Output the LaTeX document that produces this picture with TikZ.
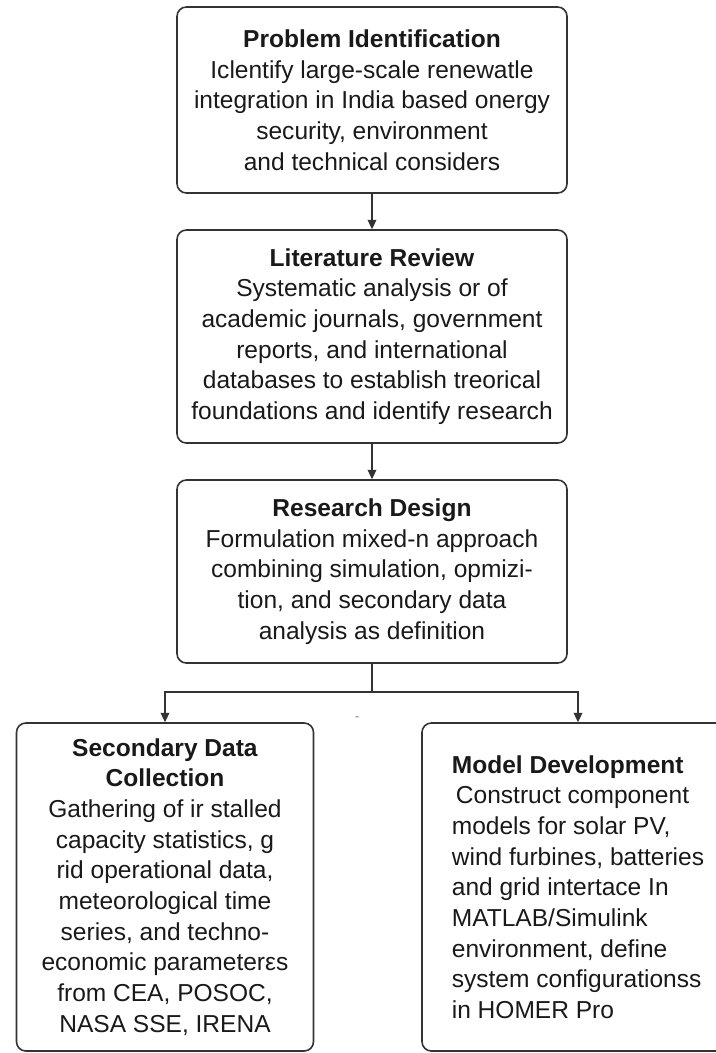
\documentclass[tikz,border=0pt]{standalone}
\usepackage{fontspec}
\setmainfont{Liberation Sans}
\usetikzlibrary{arrows.meta}

\tikzset{
  stagebox/.style={draw=black!80, line width=1.2pt, rounded corners=7pt, inner sep=0pt,
    align=center, text=black!90, font=\fontsize{18.4}{23}\selectfont},
  flowline/.style={draw=black!80, line width=1pt},
  flowarrow/.style={flowline, -{Triangle[length=7pt,width=6.5pt]}},
}

\begin{document}
\begin{tikzpicture}[x=0.75pt,y=0.75pt,yscale=-1,xscale=1]
\useasboundingbox (0,0) rectangle (715,1053);

%Stage boxes, top to bottom
\node[stagebox, minimum width=292.5pt, minimum height=139.5pt] (prob) at (372,100)
  {\textbf{Problem Identification}\\
   Iclentify large-scale renewatle\\
   integration in India based onergy\\
   security, environment\\
   and technical considers};

\node[stagebox, minimum width=292.5pt, minimum height=159.75pt] (lit) at (372,336.5)
  {\textbf{Literature Review}\\
   Systematic analysis or of\\
   academic journals, government\\
   reports, and international\\
   databases to establish treorical\\
   foundations and identify research};

\node[stagebox, minimum width=292.5pt, minimum height=137.25pt] (design) at (372,571.5)
  {\textbf{Research Design}\\
   Formulation mixed-n approach\\
   combining simulation, opmizi-\\
   tion, and secondary data\\
   analysis as definition};

%Two branches
\node[stagebox, minimum width=222.75pt, minimum height=246pt] (collect) at (165,887)
  {\textbf{Secondary Data}\\
   \textbf{Collection}\\
   Gathering of ir stalled\\
   capacity statistics, g\\
   rid operational data,\\
   meteorological time\\
   series, and techno-\\
   economic parameterεs\\
   from CEA, POSOC,\\
   NASA SSE, IRENA};

\node[stagebox, align=left, minimum width=234pt, minimum height=246pt] (model) at (578,887)
  {\textbf{Model Development}\\
   \,Construct component\\
   models for solar PV,\\
   wind furbines, batteries\\
   and grid intertace In\\
   MATLAB/Simulink\\
   environment, define\\
   system configurationss\\
   in HOMER Pro};

\node[font=\small, text=black!60, inner sep=0pt] (tick) at (357,719) {-};

%Connectors
\coordinate (split) at (372,692);
\draw[flowarrow] (prob) -- (lit);
\draw[flowarrow] (lit) -- (design);
\draw[flowline] (design) -- (split);
\draw[flowarrow] (split) -| (collect);
\draw[flowarrow] (split) -| (model);

\end{tikzpicture}
\end{document}
